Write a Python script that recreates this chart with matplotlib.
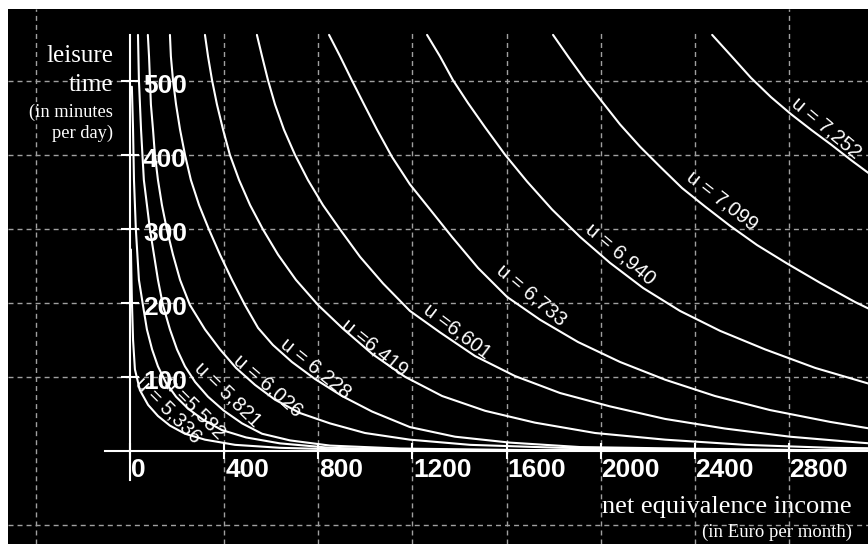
import matplotlib
matplotlib.use('Agg')
import matplotlib.pyplot as plt
from matplotlib.transforms import offset_copy

# indifference curves: net equivalence income (Euro/month) vs leisure (min/day)
inc_7252 = [2475, 2555, 2640, 2725, 2810, 2895, 2980, 3065, 3150, 3235]
lei_7252 = [562, 534, 504, 478, 455, 434, 414, 393, 373, 353]
inc_7099 = [1798, 1866, 1934, 2006, 2083, 2168, 2253, 2347, 2445, 2551, 2666, 2794, 2934, 3083, 3232]
lei_7099 = [562, 531, 501, 472, 441, 411, 384, 355, 330, 304, 278, 253, 227, 201, 178]
inc_6940 = [1262, 1317, 1372, 1436, 1509, 1594, 1687, 1794, 1913, 2040, 2181, 2338, 2509, 2700, 2913, 3138, 3275]
lei_6940 = [562, 533, 501, 470, 437, 400, 364, 326, 289, 254, 220, 189, 162, 137, 112, 91, 80]
inc_6733 = [845, 892, 943, 994, 1049, 1113, 1189, 1275, 1368, 1479, 1602, 1743, 1904, 2083, 2275, 2487, 2721, 2977, 3147, 3275]
lei_6733 = [562, 533, 500, 468, 434, 397, 360, 326, 289, 247, 208, 177, 147, 120, 96, 74, 55, 39, 30, 24]
inc_6601 = [538, 560, 585, 615, 653, 700, 755, 819, 892, 977, 1075, 1189, 1317, 1466, 1636, 1828, 2040, 2275, 2530, 2806, 3104, 3275]
lei_6601 = [562, 533, 501, 468, 434, 400, 366, 332, 299, 262, 226, 189, 160, 128, 101, 78, 60, 43, 30, 19, 11, 7]
inc_6419 = [317, 330, 347, 368, 394, 423, 462, 509, 564, 628, 704, 798, 904, 1028, 1168, 1326, 1509, 1721, 1977, 2275, 2615, 2977, 3275]
lei_6419 = [562, 533, 501, 468, 434, 400, 366, 332, 299, 265, 231, 197, 165, 131, 100, 74, 54, 38, 24, 15, 8, 4, 3]
inc_6228 = [168, 172, 181, 194, 211, 232, 257, 292, 334, 381, 432, 487, 543, 606, 687, 785, 900, 1028, 1189, 1381, 1615, 1913, 2338, 2849, 3275]
lei_6228 = [562, 533, 501, 468, 434, 400, 366, 332, 299, 265, 231, 197, 166, 143, 120, 97, 74, 53, 32, 19, 11, 5, 3, 1, 0]
inc_6026 = [74, 79, 83, 87, 96, 104, 117, 134, 155, 181, 211, 253, 317, 381, 449, 530, 615, 721, 849, 998, 1189, 1445, 1828, 2423, 3275]
lei_6026 = [562, 533, 501, 468, 434, 400, 366, 332, 299, 265, 231, 197, 164, 137, 112, 89, 69, 51, 37, 24, 15, 8, 4, 1, 0]
inc_5821 = [32, 36, 45, 57, 83, 117, 138, 168, 198, 232, 275, 330, 398, 475, 560, 679, 849, 1147, 1657, 3275]
lei_5821 = [562, 501, 434, 366, 299, 231, 197, 164, 137, 114, 93, 73, 54, 37, 23, 14, 7, 3, 1, 0]
inc_5582 = [6, 11, 15, 23, 36, 53, 70, 92, 117, 151, 194, 245, 309, 389, 492, 636, 849, 1232, 3275]
lei_5582 = [492, 434, 366, 299, 231, 197, 164, 137, 114, 92, 73, 57, 42, 28, 18, 10, 4, 1, 0]
inc_5336 = [2, 6, 11, 19, 40, 75, 117, 168, 232, 317, 445, 636, 977, 3275]
lei_5336 = [272, 204, 150, 110, 82, 62, 47, 34, 23, 15, 8, 4, 1, 0]

curves = [(inc_7252, lei_7252), (inc_7099, lei_7099), (inc_6940, lei_6940),
          (inc_6733, lei_6733), (inc_6601, lei_6601), (inc_6419, lei_6419),
          (inc_6228, lei_6228), (inc_6026, lei_6026), (inc_5821, lei_5821),
          (inc_5582, lei_5582), (inc_5336, lei_5336)]

# curve labels: text, position (income, leisure), angle
label_text = ['u = 7,252', 'u = 7,099', 'u = 6,940', 'u = 6,733', 'u =6,601',
              'u =6,419', 'u = 6,228', 'u = 6,026', 'u = 5,821', 'u =5,582',
              'u = 5,336']
label_inc = [2960, 2517, 2087, 1708, 1389, 1040, 789, 585, 415, 274, 160]
label_lei = [436, 338, 266, 211, 162, 139, 112, 88, 76, 58, 55]
label_rot = [-40, -38, -40, -40, -37, -39, -39, -41, -44, -45, -45]

x_ticks = [0, 400, 800, 1200, 1600, 2000, 2400, 2800]
y_ticks = [100, 200, 300, 400, 500]
grid_x = [-400, 400, 800, 1200, 1600, 2000, 2400, 2800]
grid_y = [-100, 100, 200, 300, 400, 500]

W, H = 868, 544
fig = plt.figure(figsize=(W / 100, H / 100), dpi=100, facecolor='white')
ax = fig.add_axes([8 / W, 0, 860 / W, 535 / H], facecolor='black')
ax.set_xlim(-521, 3138)
ax.set_ylim(-126, 597)

gcol = '#a0a0a0'
for gx in grid_x:
    top = 1.0 if gx in (-400, 2800) else 0.955
    ax.axvline(gx, ymax=top, color=gcol, lw=1, dashes=(3.6, 2.9), zorder=1)
for gy in grid_y:
    ax.axhline(gy, color=gcol, lw=1, dashes=(3.6, 2.9), zorder=1)

for inc, lei in curves:
    ax.plot(inc, lei, color='white', lw=1.5, zorder=3,
            solid_joinstyle='round', solid_capstyle='round')

for t, xi, yi, r in zip(label_text, label_inc, label_lei, label_rot):
    ax.text(xi, yi, t, color='white', fontsize=14.5, family='Liberation Sans',
            rotation=r, rotation_mode='anchor', ha='center', va='center', zorder=4)

# axes through the origin
for s in ['top', 'right']:
    ax.spines[s].set_visible(False)
ax.spines['left'].set_position(('data', 0))
ax.spines['bottom'].set_position(('data', 0))
ax.spines['left'].set_bounds(-39, 562)
ax.spines['bottom'].set_bounds(-108, 3300)
for s in ['left', 'bottom']:
    ax.spines[s].set_color('white')
    ax.spines[s].set_linewidth(1.5)
    ax.spines[s].set_zorder(5)
ax.set_xticks(x_ticks)
ax.set_yticks(y_ticks)
ax.tick_params(axis='y', direction='inout', length=13, width=1.5, color='white',
               labelleft=False)
ax.tick_params(axis='x', direction='inout', length=11, width=1.5, color='white',
               labelbottom=False)

tick_font = dict(color='white', fontsize=19, fontweight='bold', family='Liberation Sans')
ytr = offset_copy(ax.transData, fig=fig, x=12.5, y=-12, units='dots')
for v in y_ticks:
    ax.text(0, v, str(v), transform=ytr, ha='left', va='baseline', **tick_font)
xtr = offset_copy(ax.transData, fig=fig, x=1, y=-26, units='dots')
for v in x_ticks:
    ax.text(v, 0, str(v), transform=xtr, ha='left', va='baseline', **tick_font)

serif = dict(color='white', family='Liberation Serif', ha='right', va='baseline')
fig.text(113 / W, 1 - 62 / H, 'leisure', fontsize=18, **serif)
fig.text(113 / W, 1 - 91 / H, 'time', fontsize=18, **serif)
fig.text(113 / W, 1 - 117 / H, '(in minutes', fontsize=13.3, **serif)
fig.text(113 / W, 1 - 138 / H, 'per day)', fontsize=13.3, **serif)
fig.text(852 / W, 1 - 513 / H, 'net equivalence income', fontsize=19, **serif)
fig.text(852 / W, 1 - 537 / H, '(in Euro per month)', fontsize=13.5, **serif)

fig.savefig('out.png', dpi=100, facecolor='white')
